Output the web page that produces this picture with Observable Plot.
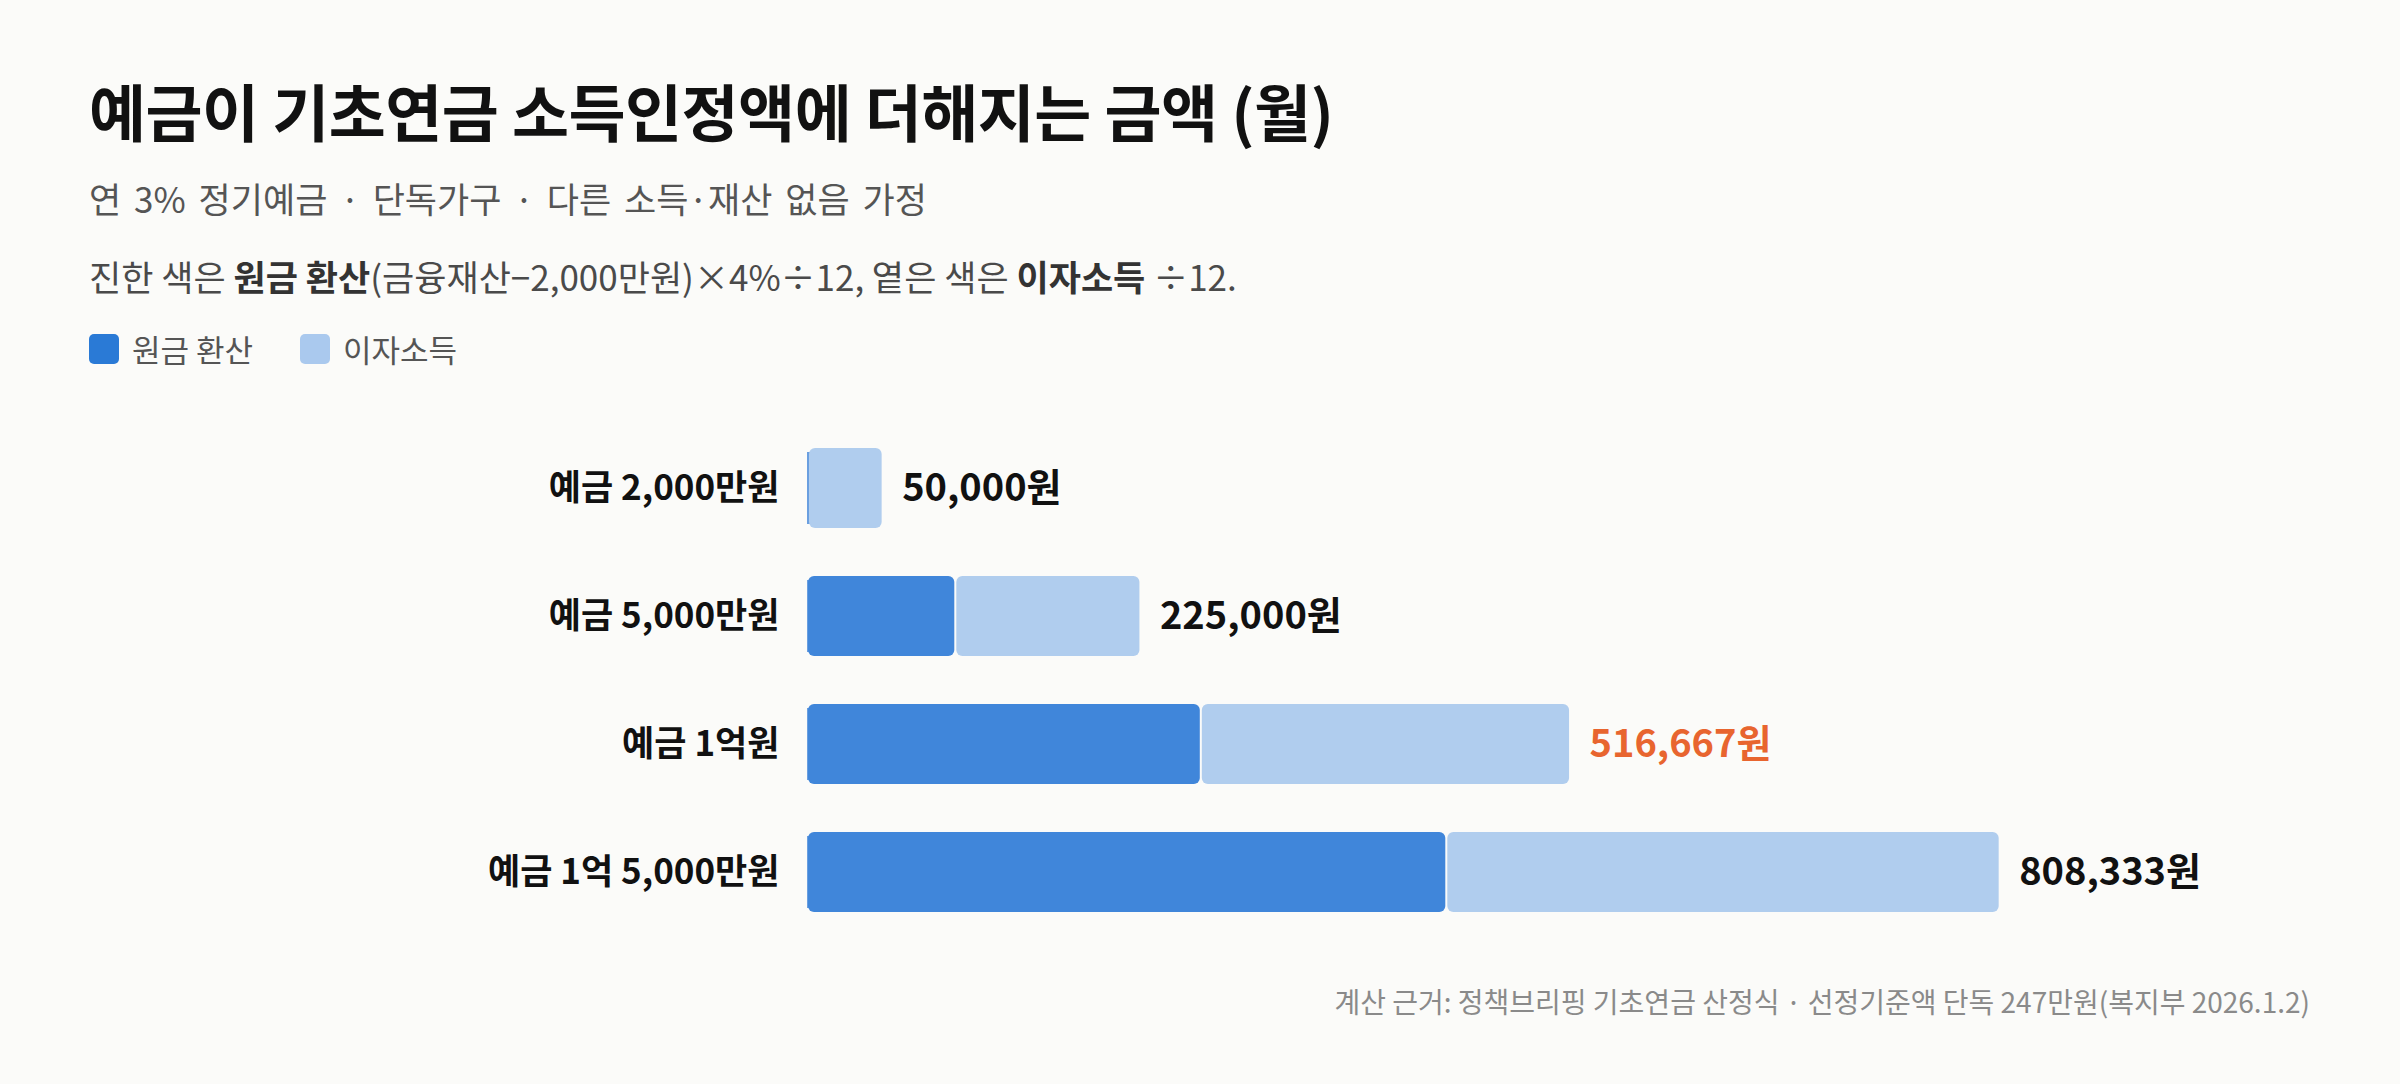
<!DOCTYPE html>
<html><head><meta charset="utf-8">
<script src="https://cdn.jsdelivr.net/npm/d3@7"></script>
<script src="https://cdn.jsdelivr.net/npm/@observablehq/plot@0.6"></script>
<style>
html,body{margin:0;padding:0;}
body{background:#fbfbf9;font-family:"Noto Sans CJK KR","Noto Sans",sans-serif;width:2400px;height:1084px;position:relative;overflow:hidden;}
.abs{position:absolute;white-space:nowrap;line-height:1;}
#title{left:89px;top:79px;font-size:62px;font-weight:700;color:#111;letter-spacing:-0.5px;}
#subtitle{left:89px;top:180px;font-size:35px;color:#555;word-spacing:5px;}
#note{left:89px;top:258px;font-size:35px;color:#4a4a4a;}
#note b{color:#333;font-weight:700;}
#legend{left:89px;top:333px;font-size:31px;color:#555;display:flex;align-items:center;}
.sw{display:inline-block;width:30px;height:30px;border-radius:5px;margin-right:13px;}
.item{display:flex;align-items:center;margin-right:47px;}
#chart{position:absolute;left:0;top:400px;}
#footer{right:90px;top:987px;font-size:28px;color:#8a8a8a;}
</style></head>
<body>
<div id="title" class="abs">예금이 기초연금 소득인정액에 더해지는 금액 (월)</div>
<div id="subtitle" class="abs">연 3% 정기예금 · 단독가구 · 다른 소득·재산 없음 가정</div>
<div id="note" class="abs">진한 색은 <b>원금 환산</b>(금융재산−2,000만원)×4%÷12, 옅은 색은 <b>이자소득</b> ÷12.</div>
<div id="legend" class="abs"></div>
<div id="chart"></div>
<div id="footer" class="abs">계산 근거: 정책브리핑 기초연금 산정식 · 선정기준액 단독 247만원(복지부 2026.1.2)</div>
<script>
const categories = ["예금 2,000만원", "예금 5,000만원", "예금 1억원", "예금 1억 5,000만원"];
const principal = [0, 100000, 266667, 433333];
const interest = [50000, 125000, 250000, 375000];
const totals = [50000, 225000, 516667, 808333];
const highlighted = "예금 1억원";
const seriesNames = ["원금 환산", "이자소득"];
const seriesColors = ["#4086da", "#b0cdee"];
const legendColors = ["#2a7ad6", "#aac9ee"];

const rows = categories.map((c, i) => ({
  label: c,
  principal: principal[i],
  interest: interest[i],
  total: totals[i]
}));

// legend
const legend = document.getElementById("legend");
seriesNames.forEach((n, i) => {
  const it = document.createElement("div");
  it.className = "item";
  it.innerHTML = `<span class="sw" style="background:${legendColors[i]}"></span><span>${n}</span>`;
  legend.appendChild(it);
});

const fmt = d3.format(",");
const chart = Plot.plot({
  width: 2400,
  height: 536,
  marginTop: 24,
  marginBottom: 0,
  marginLeft: 808,
  marginRight: 119,
  style: {background: "transparent", fontFamily: "'Noto Sans CJK KR', sans-serif"},
  x: {domain: [0, 1000000], axis: null},
  y: {domain: categories, paddingInner: 0.375, paddingOuter: 0.1875, axis: null},
  marks: [
    Plot.tickX(rows, {x: 0, y: "label", stroke: "#6a9fe0", strokeWidth: 3, insetTop: 4, insetBottom: 4}),
    Plot.barX(rows, {y: "label", x1: 0, x2: "principal", fill: seriesColors[0], rx: 6, insetRight: 1}),
    Plot.barX(rows, {y: "label", x1: "principal", x2: "total", fill: seriesColors[1], rx: 6, insetLeft: 1}),
    Plot.text(rows, {x: 0, y: "label", text: "label", textAnchor: "end", dx: -29, fontSize: 35, fontWeight: 700, fill: "#111"}),
    Plot.text(rows, {x: "total", y: "label", text: d => fmt(d.total) + "원", textAnchor: "start", dx: 20, fontSize: 38, fontWeight: 700,
      fill: d => d.label === highlighted ? "#e8652f" : "#111"})
  ]
});
document.getElementById("chart").appendChild(chart);
</script>
</body></html>
